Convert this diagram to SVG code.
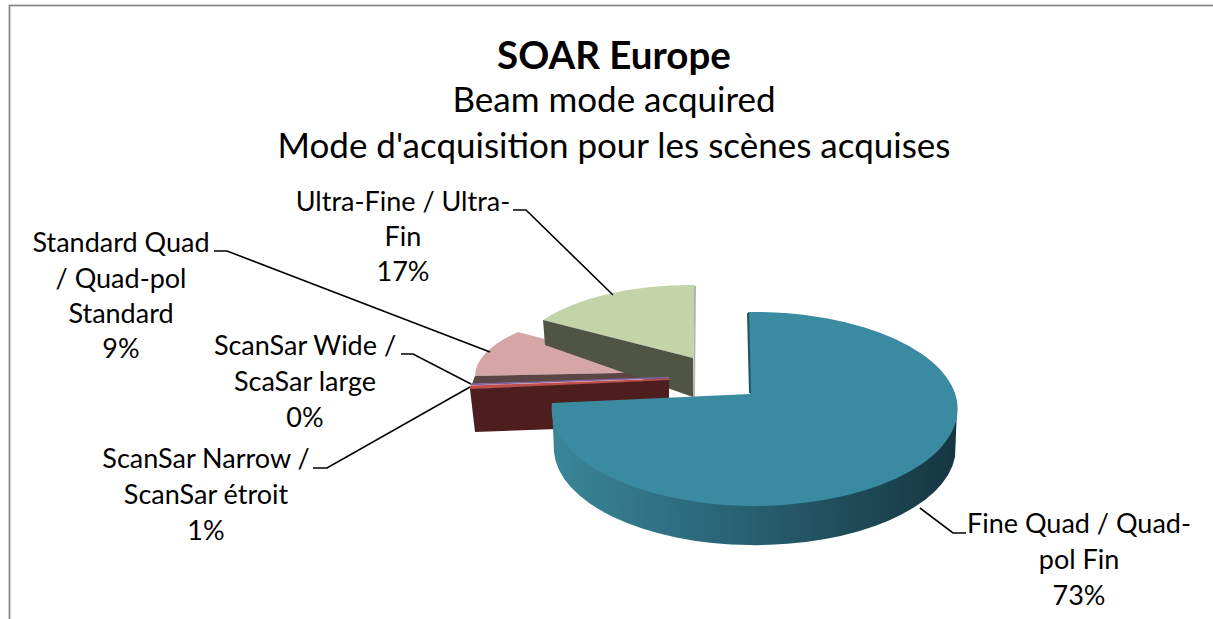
<svg xmlns="http://www.w3.org/2000/svg" width="1213" height="619" viewBox="0 0 1213 619">
<style>
text{font-family:Lato,"Liberation Sans",sans-serif;fill:#000;text-anchor:middle}
.t{font-size:35px}
.tb{font-size:38.5px;font-weight:bold}
.l{font-size:27px}
.lead{fill:none;stroke:#000;stroke-width:1.6}
</style>
<defs>
<linearGradient id="blueSide" gradientUnits="userSpaceOnUse" x1="552" y1="0" x2="957" y2="0">
<stop offset="0" stop-color="#3A8699"/>
<stop offset="0.5" stop-color="#275F6F"/>
<stop offset="1" stop-color="#163541"/>
</linearGradient>
</defs>
<rect x="0" y="0" width="1213" height="619" fill="#fff"/>
<rect x="9.5" y="5.5" width="1212" height="620" fill="#fff" stroke="#8a8a8a" stroke-width="1.8"/>

<g id="title">
<text class="tb" x="614" y="69">SOAR Europe</text>
<text class="t" x="614" y="112">Beam mode acquired</text>
<text class="t" x="614" y="158">Mode d'acquisition pour les scènes acquises</text>
</g>

<g id="slice-standard-quad">
<path d="M669,372 L518,332 A195,70 0 0 0 475,376 Z" fill="#D5A6A5"/>
<path d="M475,376 L669,372 L669,378 L472,384 Z" fill="#5C4645"/>
<text class="l" x="121" y="252">Standard Quad</text>
<text class="l" x="121" y="288">/ Quad-pol</text>
<text class="l" x="121" y="323">Standard</text>
<text class="l" x="121" y="358">9%</text>
</g>

<g id="slice-ultra-fine">
<path d="M693,358 L695,285 A175,75 0 0 0 543,320 Z" fill="#C3D4A8"/>
<path d="M543,320 L693,358 L693,397 L545,345 Z" fill="#4F5443"/>
<line x1="695" y1="286" x2="694" y2="397" stroke="#B3B7A5" stroke-width="2"/>
<text class="l" x="403" y="211">Ultra-Fine / Ultra-</text>
<text class="l" x="403" y="246">Fin</text>
<text class="l" x="403" y="281">17%</text>
</g>

<g id="slice-scansar-wide">
<line x1="471" y1="384.5" x2="669" y2="377.5" stroke="#8064A2" stroke-width="1.6"/>
<text class="l" x="305" y="355">ScanSar Wide /</text>
<text class="l" x="305" y="391">ScaSar large</text>
<text class="l" x="305" y="427">0%</text>
</g>

<g id="slice-scansar-narrow">
<path d="M470,385.5 L669,378.5 L669,380.5 L470,389.5 Z" fill="#C0504D"/>
<path d="M470,389 L669,380 L669,425 L475,432 Z" fill="#4E1E1F"/>
<text class="l" x="206" y="468">ScanSar Narrow /</text>
<text class="l" x="206" y="504">ScanSar étroit</text>
<text class="l" x="206" y="540">1%</text>
</g>

<g id="slice-fine-quad">
<path d="M552,403 A203,97 0 0 0 957,410 L955,457 A201,97 0 0 1 554,452 Z" fill="url(#blueSide)"/>
<path d="M750,394 L748,312 A203,97 0 1 1 552,403 Z" fill="#3A8BA1"/>
<line x1="748" y1="313" x2="750" y2="393" stroke="#1F5563" stroke-width="2"/>
<text class="l" x="1079" y="533">Fine Quad / Quad-</text>
<text class="l" x="1079" y="569">pol Fin</text>
<text class="l" x="1079" y="605">73%</text>
</g>

<g id="connectors">
<path class="lead" d="M513,210 L526,210 L613,295"/>
<path class="lead" d="M214,251 L227,251 L490,352"/>
<path class="lead" d="M401,354 L413,354 L471,384"/>
<path class="lead" d="M313,468 L327,468 L470,387"/>
<path class="lead" d="M920,508 L953,533 L966,533"/>
</g>
</svg>
